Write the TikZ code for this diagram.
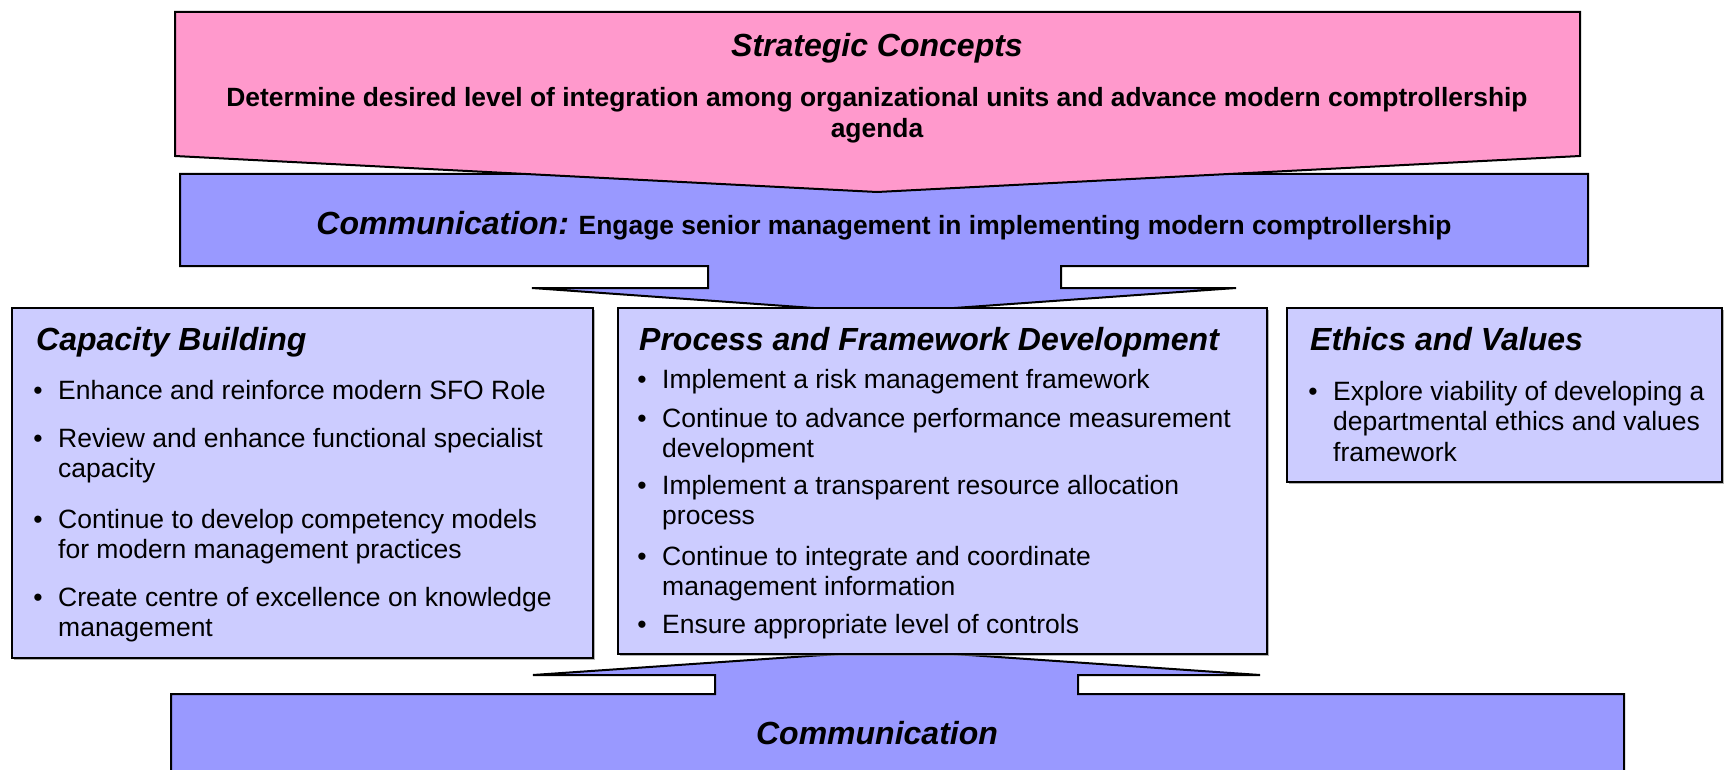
\documentclass[tikz,border=0pt]{standalone}
\usepackage{fontspec}
\setmainfont{Liberation Sans}
\usetikzlibrary{shadows}

\definecolor{stratPink}{HTML}{FF99CC}
\definecolor{commBlue}{HTML}{9999FF}
\definecolor{panelBlue}{HTML}{CCCCFF}

% bullet hung in front of the first line of an item
\newcommand{\bul}{\llap{\textbullet\hspace{15.5pt}}}

\begin{document}
\begin{tikzpicture}[x=1pt, y=-1pt,
    outline/.style={draw=black, line width=2pt, line join=miter},
    arrowPink/.style={outline, fill=stratPink},
    arrowBlue/.style={outline, fill=commBlue},
    panel/.style={outline, fill=panelBlue, anchor=north west, inner sep=0pt, drop shadow={shadow xshift=2pt, shadow yshift=-2pt, fill=gray, opacity=0.6}},
    heading/.style={font=\fontsize{32}{38}\selectfont\bfseries\itshape, inner sep=0pt},
    leadText/.style={font=\fontsize{26.4}{31}\selectfont\bfseries, align=center, inner sep=0pt},
    bullets/.style={font=\fontsize{26.5}{30.5}\selectfont, align=left, anchor=base west, inner sep=0pt}
]
    \useasboundingbox (0,0) rectangle (1724,770);
    \clip (0,0) rectangle (1724,770);

    % communication band with its arrow down
    \draw[arrowBlue] (180,174) -- (1588,174) -- (1588,266) -- (1061,266) -- (1061,288) -- (1236,288)
        -- (884,313) -- (532,288) -- (708,288) -- (708,266) -- (180,266) -- cycle;
    % strategic concepts on top of it
    \draw[arrowPink] (175,12) -- (1580,12) -- (1580,156) -- (877,192) -- (175,156) -- cycle;
    % communication band at the foot, arrow pointing up
    \draw[arrowBlue] (171,800) -- (171,694) -- (715,694) -- (715,675) -- (533,675) -- (896,650)
        -- (1260,675) -- (1078,675) -- (1078,694) -- (1624,694) -- (1624,800) -- cycle;

    \node[panel, minimum width=581pt, minimum height=350pt] (capacity) at (11,307) {};
    \node[panel, minimum width=649pt, minimum height=346pt] (process) at (617,307) {};
    \node[panel, minimum width=435pt, minimum height=174pt] (ethics) at (1286,307) {};

    % multi-line nodes: base is the baseline of the last line
    \node[heading, anchor=base] (stratTitle) at (877,57) {Strategic Concepts};
    \node[leadText, anchor=base] (stratText) at (877,138) {Determine desired level of integration among organizational units and advance modern comptrollership\\agenda};
    \node[leadText, anchor=base] (commTop) at (884,235) {{\fontsize{32}{38}\selectfont\itshape Communication:} Engage senior management in implementing modern comptrollership};
    \node[heading, anchor=base] (commBottom) at (877,744) {Communication};

    \node[heading, anchor=base west] (capTitle) at (36,350) {Capacity Building};
    \node[bullets] (cap1) at (58,399) {\bul Enhance and reinforce modern SFO Role};
    \node[bullets] (cap2) at (58,477.5) {\bul Review and enhance functional specialist\\capacity};
    \node[bullets] (cap3) at (58,558.5) {\bul Continue to develop competency models\\for modern management practices};
    \node[bullets] (cap4) at (58,636.5) {\bul Create centre of excellence on knowledge\\management};

    \node[heading, anchor=base west] (procTitle) at (639,350) {Process and Framework Development};
    \node[bullets] (proc1) at (662,388) {\bul Implement a risk management framework};
    \node[bullets] (proc2) at (662,457.5) {\bul Continue to advance performance measurement\\development};
    \node[bullets] (proc3) at (662,524.5) {\bul Implement a transparent resource allocation\\process};
    \node[bullets] (proc4) at (662,595.5) {\bul Continue to integrate and coordinate\\management information};
    \node[bullets] (proc5) at (662,633) {\bul Ensure appropriate level of controls};

    \node[heading, anchor=base west] (ethTitle) at (1310,350) {Ethics and Values};
    \node[bullets] (eth1) at (1333,461) {\bul Explore viability of developing a\\departmental ethics and values\\framework};
\end{tikzpicture}
\end{document}
